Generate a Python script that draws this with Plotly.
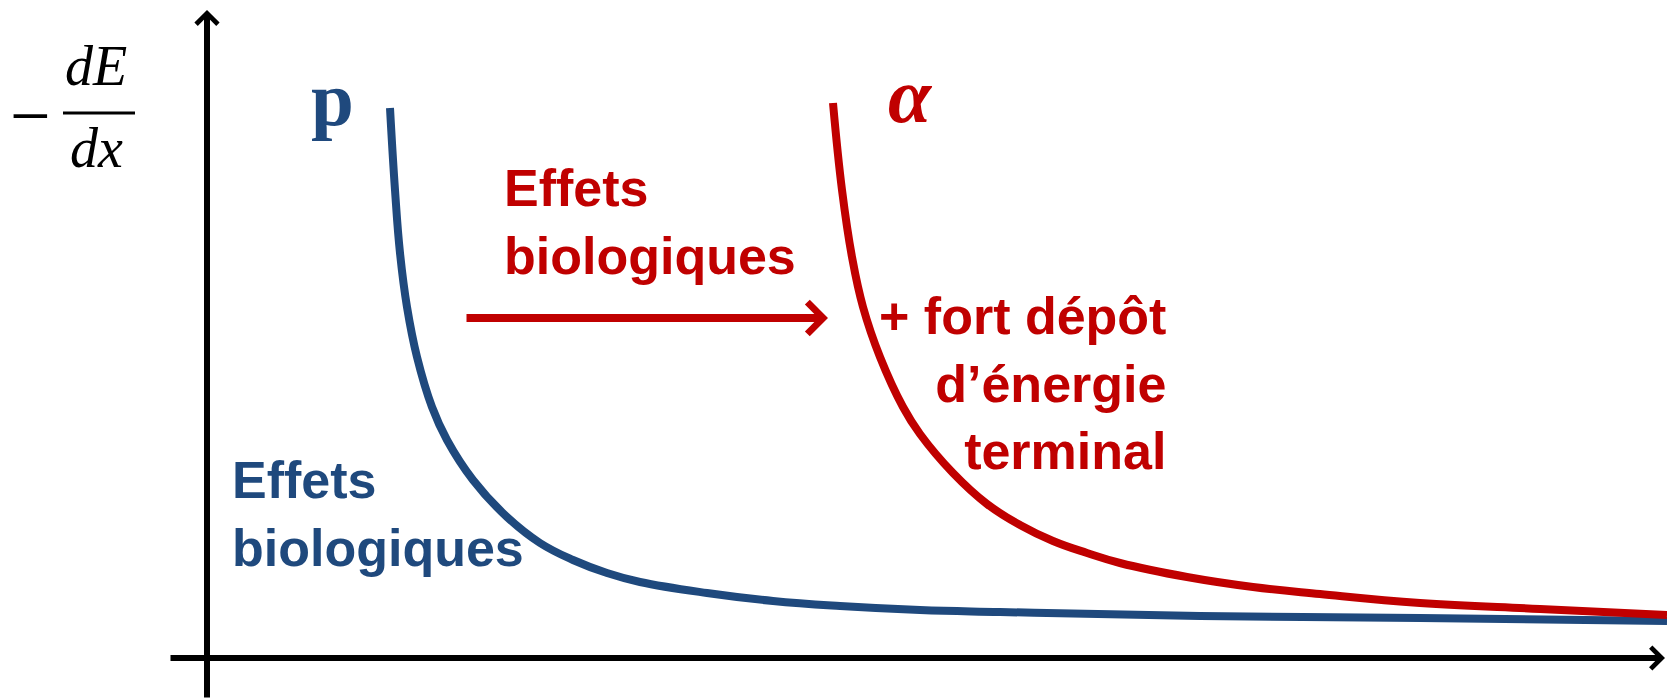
import plotly.graph_objects as go

# Stopping power curves (arbitrary units): proton (p) and alpha particle
p_x = [1.83, 1.88, 1.93, 2.00, 2.10, 2.25, 2.40, 2.66, 3.00, 3.33, 3.66, 4.00, 4.33, 5.00, 5.66, 6.33, 7.13, 7.93, 9.93, 12.13, 14.60]
p_y = [11.00, 9.36, 8.10, 7.02, 6.02, 5.02, 4.36, 3.56, 2.82, 2.30, 1.96, 1.70, 1.52, 1.30, 1.14, 1.04, 0.96, 0.92, 0.84, 0.80, 0.74]

alpha_x = [6.26, 6.35, 6.45, 6.56, 6.73, 6.96, 7.13, 7.46, 7.80, 8.13, 8.46, 8.80, 9.13, 9.80, 10.46, 11.13, 12.13, 13.33, 14.60]
alpha_y = [11.10, 9.36, 8.02, 7.02, 6.02, 5.02, 4.48, 3.70, 3.08, 2.66, 2.34, 2.10, 1.90, 1.62, 1.42, 1.28, 1.10, 0.98, 0.86]

BLUE = "#1F497D"
RED = "#C00000"

X_RANGE = [-2.07, 14.60]
Y_RANGE = [-0.82, 13.16]

fig = go.Figure()

fig.add_trace(go.Scatter(x=p_x, y=p_y, mode="lines", line=dict(color=BLUE, width=8, shape="spline", smoothing=1.2),
                         hoverinfo="skip"))
fig.add_trace(go.Scatter(x=alpha_x, y=alpha_y, mode="lines", line=dict(color=RED, width=8, shape="spline", smoothing=1.2),
                         hoverinfo="skip"))

annotations = []

# Axes drawn as arrows
annotations.append(dict(x=0, y=12.96, ax=0, ay=Y_RANGE[0], xref="x", yref="y", axref="x", ayref="y",
                        showarrow=True, arrowhead=4, arrowsize=0.7, arrowwidth=6, arrowcolor="black", text=""))
annotations.append(dict(x=14.58, y=0, ax=-0.38, ay=0, xref="x", yref="y", axref="x", ayref="y",
                        showarrow=True, arrowhead=4, arrowsize=0.7, arrowwidth=6, arrowcolor="black", text=""))

# Shift arrow between the two curves
annotations.append(dict(x=6.21, y=6.80, ax=2.58, ay=6.80, xref="x", yref="y", axref="x", ayref="y",
                        showarrow=True, arrowhead=4, arrowsize=0.76, arrowwidth=8, arrowcolor=RED, text=""))

# Y axis label: -dE/dx
math_font = dict(family="Liberation Serif", size=56, color="black")
annotations.append(dict(x=-1.77, y=10.85, xref="x", yref="y", text="−", showarrow=False,
                        font=dict(family="Liberation Serif", size=72, color="black")))
annotations.append(dict(x=-1.11, y=11.84, xref="x", yref="y", text="<i>dE</i>", showarrow=False, font=math_font))
annotations.append(dict(x=-1.11, y=10.20, xref="x", yref="y", text="<i>dx</i>", showarrow=False, font=math_font))

# Particle labels
annotations.append(dict(x=1.25, y=11.18, xref="x", yref="y", text="<b>p</b>", showarrow=False,
                        font=dict(family="Liberation Serif", size=77, color=BLUE)))
annotations.append(dict(x=7.03, y=11.26, xref="x", yref="y", text="<b><i>α</i></b>", showarrow=False,
                        font=dict(family="Liberation Serif", size=78, color=RED)))

sans_blue = dict(family="Liberation Sans", size=52, color=BLUE)
sans_red = dict(family="Liberation Sans", size=52, color=RED)

annotations.append(dict(x=2.95, y=8.72, xref="x", yref="y", text="<b>Effets<br>biologiques</b>", showarrow=False,
                        xanchor="left", align="left", font=sans_red))
annotations.append(dict(x=0.23, y=2.89, xref="x", yref="y", text="<b>Effets<br>biologiques</b>", showarrow=False,
                        xanchor="left", align="left", font=sans_blue))
annotations.append(dict(x=9.61, y=5.50, xref="x", yref="y",
                        text="<b>+ fort dépôt<br>d’énergie<br>terminal</b>", showarrow=False,
                        xanchor="right", align="right", font=sans_red))

# Fraction bar of dE/dx
shapes = [dict(type="line", x0=-1.44, x1=-0.72, y0=10.9, y1=10.9, xref="x", yref="y",
               line=dict(color="black", width=3))]

fig.update_layout(
    width=1667, height=699,
    margin=dict(l=0, r=0, t=0, b=0),
    paper_bgcolor="white", plot_bgcolor="white",
    showlegend=False,
    xaxis=dict(range=X_RANGE, visible=False, fixedrange=True),
    yaxis=dict(range=Y_RANGE, visible=False, fixedrange=True),
    annotations=annotations,
    shapes=shapes,
)

fig.write_html("out.html", config={"displayModeBar": False})
